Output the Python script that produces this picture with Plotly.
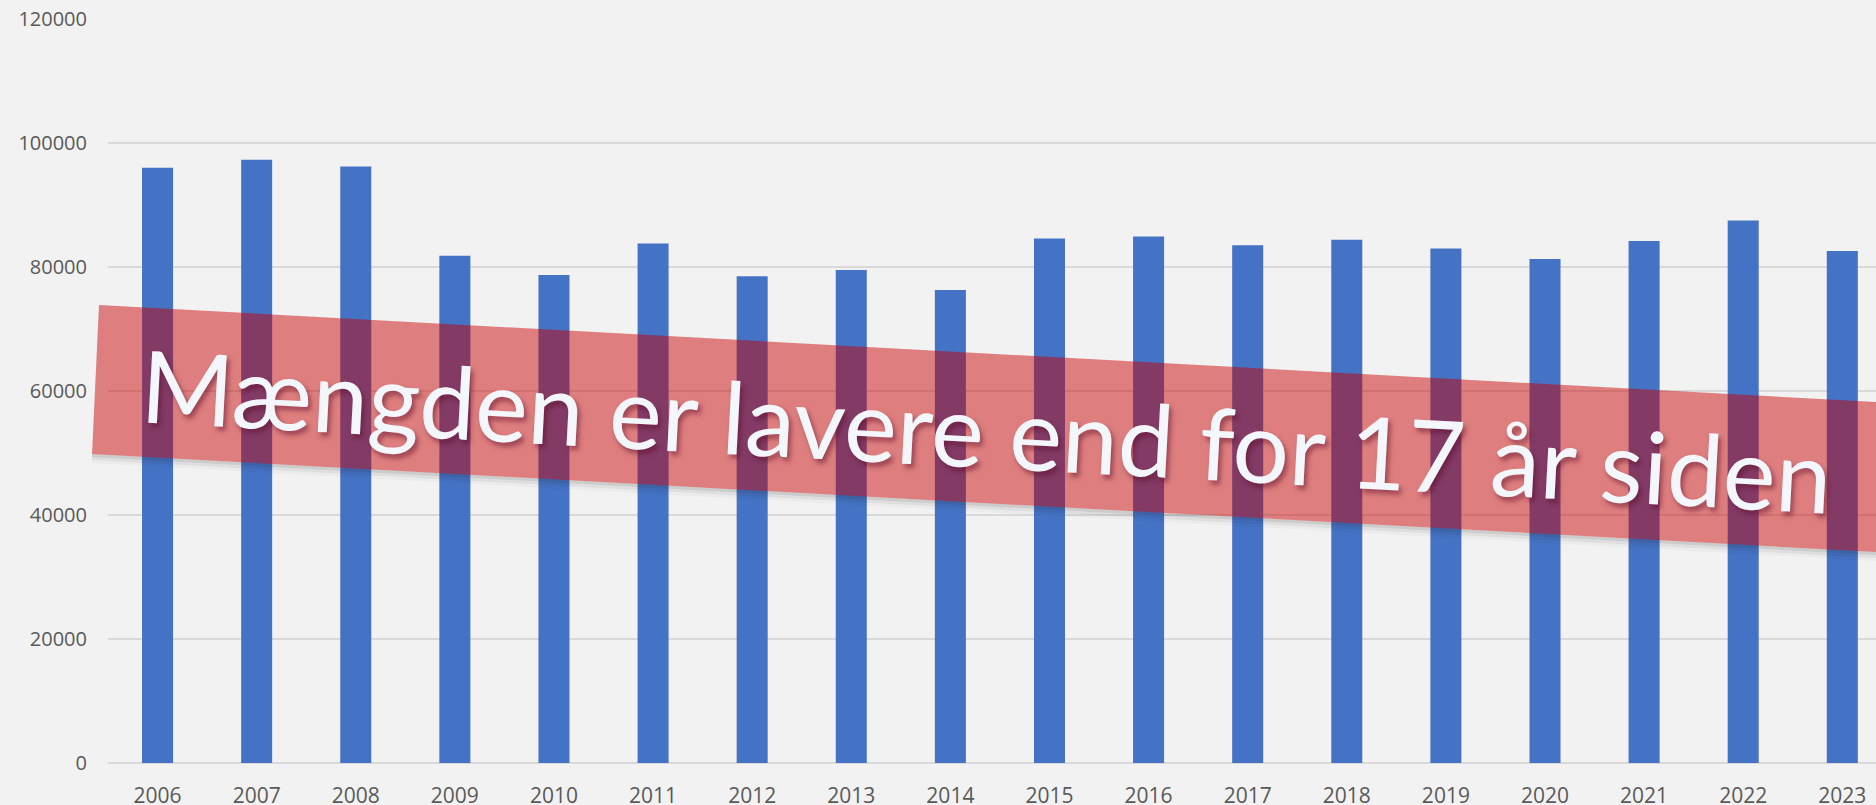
import plotly.graph_objects as go

years = ["2006", "2007", "2008", "2009", "2010", "2011", "2012", "2013", "2014",
         "2015", "2016", "2017", "2018", "2019", "2020", "2021", "2022", "2023"]
values = [96000, 97300, 96200, 81800, 78700, 83800, 78500, 79500, 76300,
          84600, 84900, 83500, 84400, 83000, 81300, 84200, 87500, 82600]
y_ticks = [0, 20000, 40000, 60000, 80000, 100000, 120000]
banner_text = "Mængden er lavere end for 17 år siden"

W, H = 1876, 805
ML, MR, MT, MB = 108, 0, 19, 42
PW, PH = W - ML - MR, H - MT - MB


def px(x):
    return (x - ML) / PW


def py(y):
    return (H - MB - y) / PH


fig = go.Figure()
fig.add_trace(go.Bar(
    x=years, y=values, width=0.313,
    marker=dict(color="#4472c4", line=dict(width=0)),
    hoverinfo="x+y",
))

# soft shadow under the ribbon (only below its bottom edge)
for off, alpha in [(3, 0.10), (6, 0.06), (9, 0.03)]:
    p = (f"M {px(92)},{py(454)} L {px(1900)},{py(553.4)} "
         f"L {px(1900)},{py(553.4 + off)} L {px(92)},{py(454 + off)} Z")
    fig.add_shape(type="path", path=p, xref="paper", yref="paper",
                  fillcolor=f"rgba(40,40,40,{alpha})", line=dict(width=0), layer="above")

band = f"M {px(92)},{py(454)} L {px(1900)},{py(553.4)} L {px(1900)},{py(403.3)} L {px(99)},{py(305)} Z"
fig.add_shape(type="path", path=band, xref="paper", yref="paper",
              fillcolor="rgba(200,0,0,0.48)", line=dict(width=0), layer="above")

fig.add_annotation(
    text=banner_text, x=px(986), y=py(429), xref="paper", yref="paper",
    xanchor="center", yanchor="middle", showarrow=False, textangle=3.1,
    font=dict(family="Lato", size=100, color="#f3f6fa",
              shadow="3px 4px 5px rgba(90,10,40,0.5)"),
)

fig.update_layout(
    width=W, height=H,
    margin=dict(l=ML, r=MR, t=MT, b=MB, pad=0, autoexpand=False),
    paper_bgcolor="#f2f2f2", plot_bgcolor="#f2f2f2",
    showlegend=False, bargap=0.687,
    font=dict(family="Open Sans", color="#595959", size=20),
)
fig.update_xaxes(
    type="category", range=[-0.5, 17.34], showgrid=False,
    showline=False, zeroline=False, ticks="", automargin=False,
    tickfont=dict(size=21, color="#595959"), ticklabelstandoff=18,
)
fig.update_yaxes(
    range=[0, 120000], tickvals=y_ticks, tickformat="d", automargin=False,
    showgrid=True, gridcolor="#d9d9d9", gridwidth=2,
    zeroline=True, zerolinecolor="#d9d9d9", zerolinewidth=2,
    showline=False, ticks="", ticklabelstandoff=20,
    tickfont=dict(size=20, color="#595959"),
)

fig.write_html(
    "out.html",
    config={"displayModeBar": False},
    post_script="document.body.style.margin='0';document.body.style.overflow='hidden';",
)
